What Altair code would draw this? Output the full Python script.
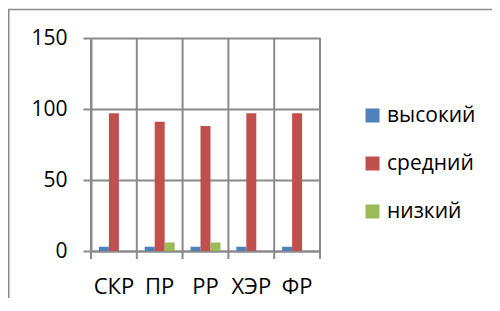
import altair as alt
import pandas as pd

categories = ["СКР", "ПР", "РР", "ХЭР", "ФР"]
series = ["высокий", "средний", "низкий"]
high = [3, 3, 3, 3, 3]
mid = [97, 91, 88, 97, 97]
low = [0, 6, 6, 0, 0]
colors = ["#4F81BD", "#C0504D", "#9BBB59"]
y_ticks = [0, 50, 100, 150]

rows = []
for i, c in enumerate(categories):
    for s, vals in zip(series, [high, mid, low]):
        rows.append({"cat": c, "level": s, "value": vals[i]})
df = pd.DataFrame(rows)

W, H = 229, 213
PL, PT, PR, PB = 83, 30, 172, 47
FONT = "Open Sans"
GRID = "#8a8a8a"
LW = 2

x_scale = alt.Scale(domain=categories, paddingInner=0, paddingOuter=0)
x_axis = alt.Axis(title=None, labelAngle=0, labelFont=FONT, labelFontSize=22,
                  labelColor="#000000", ticks=False, grid=False, bandPosition=0.5,
                  domainColor=GRID, domainWidth=LW, labelPadding=25)

bars = alt.Chart(df).mark_bar().encode(
    x=alt.X("cat:N", sort=categories, scale=x_scale, axis=x_axis),
    xOffset=alt.XOffset("level:N", sort=series,
                        scale=alt.Scale(domain=series, paddingOuter=0.79, paddingInner=0)),
    y=alt.Y("value:Q", scale=alt.Scale(domain=[0, 150], nice=False),
            axis=alt.Axis(title=None, values=y_ticks, labelFont=FONT, labelFontSize=21,
                          labelColor="#000000", gridColor=GRID, gridWidth=LW,
                          domainColor=GRID, domainWidth=LW, tickColor=GRID,
                          tickWidth=LW, tickSize=8, labelPadding=16)),
    color=alt.Color("level:N", sort=series,
                    scale=alt.Scale(domain=series, range=colors),
                    legend=alt.Legend(title=None, orient="none", legendX=271, legendY=67,
                                      symbolType="square", symbolSize=196,
                                      symbolStrokeWidth=0, labelFont=FONT,
                                      labelFontSize=21, labelColor="#000000",
                                      rowPadding=26, labelOffset=4)),
)

vgrid = alt.Chart(pd.DataFrame({"cat": categories})).mark_rule(
    color=GRID, strokeWidth=LW).encode(
    x=alt.X("cat:N", sort=categories, scale=x_scale, bandPosition=0, axis=x_axis),
    y=alt.value(0), y2=alt.value(H + 8))

right_edge = alt.Chart(pd.DataFrame({"cat": [categories[-1]]})).mark_rule(
    color=GRID, strokeWidth=LW).encode(
    x=alt.X("cat:N", sort=categories, scale=x_scale, bandPosition=1, axis=x_axis),
    y=alt.value(0), y2=alt.value(H + 8))

frame_left = alt.Chart(pd.DataFrame({"a": [0]})).mark_rule(
    color="#8a8a8a", strokeWidth=1.5).encode(
    x=alt.value(-PL + 0.75), y=alt.value(-PT + 1), y2=alt.value(H + PB))
frame_top = alt.Chart(pd.DataFrame({"a": [0]})).mark_rule(
    color="#8a8a8a", strokeWidth=1.5).encode(
    x=alt.value(-PL), x2=alt.value(W + PR), y=alt.value(-PT + 1.5))

chart = alt.layer(bars, vgrid, right_edge, frame_left, frame_top).properties(
    width=W, height=H,
    autosize=alt.AutoSizeParams(type="none"),
    padding={"left": PL, "top": PT, "right": PR, "bottom": PB},
).configure_view(stroke=None).configure(background="white")

chart.save("out.html", embed_options={"renderer": "svg", "actions": False})
